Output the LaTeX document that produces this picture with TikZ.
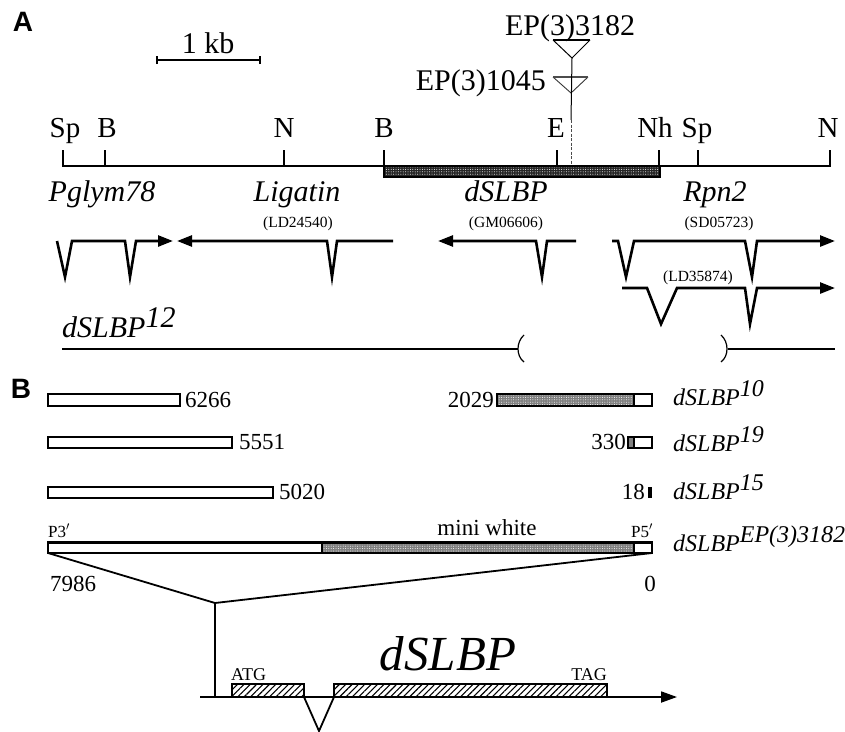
\documentclass[tikz,border=0pt]{standalone}
\usepackage{fontspec}
\setmainfont{Liberation Serif}
\newfontfamily\headfont{Liberation Sans}
\usetikzlibrary{arrows.meta,patterns.meta}
\newcommand\fsz[1]{\fontsize{#1}{#1}\selectfont}
\begin{document}
\begin{tikzpicture}[x=1pt,y=-1pt,
  lbl/.style={inner sep=0pt, anchor=base},
  lblw/.style={inner sep=0pt, anchor=base west},
  lble/.style={inner sep=0pt, anchor=base east},
  head/.style={inner sep=0pt, font=\headfont\bfseries\fsz{28}},
  maplbl/.style={lbl, font=\fsz{29}},
  genename/.style={lbl, font=\itshape\fsz{30}},
  clone/.style={lbl, font=\fsz{15.5}},
  num/.style={font=\fsz{23}},
  allele/.style={lblw, font=\itshape\fsz{24}},
  gene/.style={line width=2.6pt, line join=miter, miter limit=20},
  garrow/.style={-{Triangle[length=15pt,width=11pt]}},
  mapline/.style={line width=2pt},
  maptick/.style={line width=1.6pt},
  box/.style={draw, line width=1.8pt, fill=white},
  graybar/.style={fill=black!50},
  dotfill/.style={pattern={Dots[distance=2.4pt,radius=0.5pt]}, pattern color=white},
  exon/.style={pattern={Lines[angle=45,distance=4.5pt,line width=1.1pt]}},
]
\useasboundingbox (0,0) rectangle (845,731);

% ---------- Panel A ----------
\node[head] (A) at (23,22) {A};

% scale bar
\coordinate (sb1) at (157,60);
\coordinate (sb2) at (260,60);
\draw[line width=2.4pt] (sb1) -- (sb2);
\draw[line width=1.6pt] ([yshift=-4pt]sb1) -- ([yshift=4pt]sb1);
\draw[line width=1.6pt] ([yshift=-4pt]sb2) -- ([yshift=4pt]sb2);
\node[lbl, font=\fsz{30}] (kb) at (208,53) {1 kb};

% restriction map
\fill[black!85] (384,166) rectangle (660,177);
\fill[dotfill] (384,166) rectangle (660,177);
\draw[line width=1.2pt] (384,166) rectangle (660,177);
\coordinate (m0) at (63,166);
\coordinate (m1) at (830,166);
\draw[mapline] (m0) -- (m1);
\foreach \x in {63,105,284,384,557,659,698,830}
  \draw[maptick] (\x,166.8) -- (\x,150);
\node[maplbl] (sp1) at (65,137) {Sp};
\node[maplbl] (b1)  at (107,137) {B};
\node[maplbl] (n1)  at (284,137) {N};
\node[maplbl] (b2)  at (384,137) {B};
\node[maplbl] (e1)  at (556,137) {E};
\node[maplbl] (nh)  at (655,137) {Nh};
\node[maplbl] (sp2) at (697,137) {Sp};
\node[maplbl] (n2)  at (828,137) {N};

% EP insertions
\node[lbl, font=\fsz{30}] (ep1) at (570,35) {EP(3)3182};
\node[lble, font=\fsz{30}] (ep2) at (546,90) {EP(3)1045};
\coordinate (t1a) at (553,40); \coordinate (t1b) at (590,40); \coordinate (t1c) at (572,58);
\coordinate (t2a) at (553,77); \coordinate (t2b) at (588,77); \coordinate (t2c) at (571,93);
\draw[line width=1pt] (t1a) -- (t1c) -- (t1b);
\draw[line width=2pt] (t1a) -- (t1b);
\draw[line width=0.9pt, black!80] (t2a) -- (t2c) -- (t2b);
\draw[line width=1.4pt, black!70] (t2a) -- (t2b);
\coordinate (vl) at (571,120);
\coordinate (vb) at (571,165);
\draw[line width=1pt] (t1c) -- (vl);
\draw[line width=0.9pt, black!70, dash pattern=on 3pt off 1.5pt] (vl) -- (vb);

% gene names
\node[genename] (g1) at (102,201) {Pglym78};
\node[genename] (g2) at (297,201) {Ligatin};
\node[genename] (g3) at (506,201) {dSLBP};
\node[genename] (g4) at (715,201) {Rpn2};
\node[clone] (c2) at (298,227) {(LD24540)};
\node[clone] (c3) at (506,227) {(GM06606)};
\node[clone] (c4) at (719,227) {(SD05723)};
\node[clone] (c5) at (698,281) {(LD35874)};

% gene models
\draw[gene, garrow] (57,241) -- (65,277) -- (72,241) -- (125,241) -- (130,277) -- (136,241) -- (173,241);
\draw[gene, garrow] (393,241) -- (337,241) -- (332,277) -- (327,241) -- (177,241);
\draw[gene, garrow] (576,241) -- (547,241) -- (542,277) -- (536,241) -- (438,241);
\draw[gene, garrow] (612,241) -- (618,241) -- (626,277) -- (634,241) -- (745,241) -- (752,277) -- (757,241) -- (835,241);
\draw[gene, garrow] (622,288) -- (647,288) -- (661,324) -- (677,288) -- (745,288) -- (750,324) -- (757,288) -- (835,288);

% deletion dSLBP12
\node[lblw, font=\itshape\fsz{30}] (d12) at (62,337) {dSLBP\raisebox{10pt}{12}};
\coordinate (dl0) at (62,349);
\coordinate (dl1) at (518,349);
\coordinate (dr0) at (728,349);
\coordinate (dr1) at (835,349);
\draw[line width=2.6pt] (dl0) -- (dl1);
\draw[line width=1.4pt] (dr0) -- (dr1);
\draw[line width=1.2pt] (524,335) .. controls (516,342) and (516,356) .. (524,362);
\draw[line width=1.2pt] (721,335) .. controls (729,342) and (729,356) .. (721,362);

% ---------- Panel B ----------
\node[head] (B) at (21,389) {B};

% 3' side remnants
\draw[box] (48,394) rectangle (180,406);
\draw[box] (48,437) rectangle (232,448);
\draw[box] (48,487) rectangle (273,498);
\node[lblw, num] (n6266) at (185,407) {6266};
\node[lblw, num] (n5551) at (239,449) {5551};
\node[lblw, num] (n5020) at (279,499) {5020};

% 5' side remnants
\fill[white] (497,394) rectangle (652,406);
\fill[graybar] (497,394) rectangle (634,406);
\fill[dotfill] (497,394) rectangle (634,406);
\draw[line width=1.6pt] (634,394) -- (634,406);
\draw[line width=1.8pt] (497,394) rectangle (652,406);
\node[lble, num] (n2029) at (494,407) {2029};

\fill[white] (628,437) rectangle (652,448);
\fill[graybar] (628,437) rectangle (634,448);
\draw[line width=1.2pt] (634,437) -- (634,448);
\draw[line width=1.8pt] (628,437) rectangle (652,448);
\node[lble, num] (n330) at (626,449) {330};

\fill[black] (648,487) rectangle (652,498);
\node[lble, num] (n18) at (645,499) {18};

% EP element
\fill[white] (48,542) rectangle (652,553);
\fill[graybar] (322,542) rectangle (634,553);
\fill[dotfill] (322,542) rectangle (634,553);
\draw[line width=1.4pt] (322,542) -- (322,553);
\draw[line width=1.4pt] (634,542) -- (634,553);
\draw[line width=1.8pt] (48,542) rectangle (652,553);
\draw[line width=3pt] (47.1,542) -- (652.9,542);
\node[lblw, font=\fsz{17}] (p3) at (48,537) {P3$'$};
\node[lble, font=\fsz{17}] (p5) at (653,537) {P5$'$};
\node[lbl, font=\fsz{23}] (mw) at (487,535) {mini white};

% allele names
\node[allele] (a10) at (673,405) {dSLBP\raisebox{9pt}{10}};
\node[allele] (a19) at (673,451) {dSLBP\raisebox{9pt}{19}};
\node[allele] (a15) at (673,499) {dSLBP\raisebox{9pt}{15}};
\node[allele] (aep) at (673,551) {dSLBP\raisebox{9pt}{EP(3)3182}};

% coordinates
\node[lblw, num] (c7986) at (50,591) {7986};
\node[lbl, num] (c0) at (650,591) {0};

% zoom-in lines
\coordinate (zl) at (48,553);
\coordinate (zr) at (652,553);
\coordinate (zj) at (215,603);
\coordinate (zb) at (215,697);
\draw[line width=1.8pt] (zl) -- (zj) -- (zr);
\draw[line width=1.8pt] (zj) -- (zb);

% dSLBP gene model
\coordinate (gs) at (200,697);
\coordinate (ge) at (677,697);
\draw[line width=1.8pt, -{Triangle[length=16pt,width=11pt]}] (gs) -- (ge);
\fill[white] (232,684) rectangle (304,697);
\fill[exon] (232,684) rectangle (304,697);
\draw[line width=1.8pt] (232,684) rectangle (304,697);
\fill[white] (334,684) rectangle (607,697);
\fill[exon] (334,684) rectangle (607,697);
\draw[line width=1.8pt] (334,684) rectangle (607,697);
\draw[line width=1.8pt] (304,697) -- (319,731) -- (334,697);
\node[lblw, font=\fsz{18}] (atg) at (231,680) {ATG};
\node[lble, font=\fsz{18}] (tag) at (607,680) {TAG};
\node[lbl, font=\itshape\fsz{49}] (big) at (448,670) {dSLBP};
\end{tikzpicture}
\end{document}
